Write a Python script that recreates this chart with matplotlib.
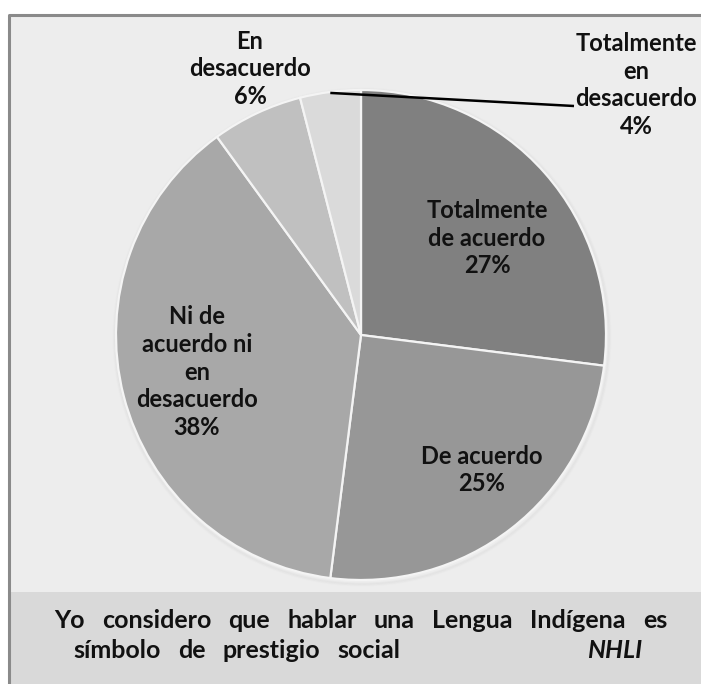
import numpy as np
import matplotlib
matplotlib.use("Agg")
import matplotlib.pyplot as plt
from matplotlib.patches import Rectangle

# Survey answers: "Yo considero que hablar una Lengua Indígena es símbolo de prestigio social" (NHLI)
categories = ["Totalmente\nde acuerdo", "De acuerdo", "Ni de\nacuerdo ni\nen\ndesacuerdo",
              "En\ndesacuerdo", "Totalmente\nen\ndesacuerdo"]
percentages = [27, 25, 38, 6, 4]
colors = ["#808080", "#979797", "#a8a8a8", "#c0c0c0", "#dadada"]
caption_line1 = ["Yo", "considero", "que", "hablar", "una", "Lengua", "Indígena", "es"]
caption_line2 = ["símbolo", "de", "prestigio", "social"]
caption_tag = "NHLI"

W, H = 701, 684
fig = plt.figure(figsize=(W / 100, H / 100), dpi=100)
fig.patch.set_facecolor("white")
ax = fig.add_axes([0, 0, 1, 1])

FONT = "Lato"
TXT = "#111111"

cx, cy, R = 361, H - 335, 245

wedges, _ = ax.pie(percentages, colors=colors, startangle=90, counterclock=False,
                   center=(cx, cy), radius=R, frame=True,
                   wedgeprops=dict(edgecolor="#f4f4f4", linewidth=1.6, zorder=3))
ax.set_xlim(0, W)
ax.set_ylim(0, H)
ax.set_aspect("equal")
ax.axis("off")

# chart frame and caption band
ax.add_patch(Rectangle((9, 92), W - 9, H - 15 - 92, facecolor="#ededed",
                       edgecolor="none", zorder=0))
ax.add_patch(Rectangle((9, 0), W - 9, 92, facecolor="#d9d9d9",
                       edgecolor="none", zorder=0))
ax.plot([9, 9, W], [0, H - 15, H - 15], color="#8a8a8a", lw=2.2, zorder=1,
        solid_capstyle="butt")

# soft shadow rim around the pie
for k, a in enumerate([0.06, 0.04, 0.025]):
    ax.add_patch(plt.Circle((cx + 1, cy - 2), R + 1.5 + k, facecolor="none",
                            edgecolor="#8a8a8a", lw=1.3, alpha=a, zorder=2))

# data labels: centre positions in chart pixels (x, y from top)
label_pos = [(487, 238), (482, 470), (197, 372), (250, 69), (636, 85)]
fs = 17
for (x, ytop), lab, p in zip(label_pos, categories, percentages):
    ax.text(x, H - ytop, f"{lab}\n{p}%", ha="center", va="center", fontsize=fs,
            fontweight="bold", family=FONT, linespacing=1.25, color=TXT, zorder=5)

# leader line for the smallest slice
w5 = wedges[4]
m5 = np.deg2rad((w5.theta1 + w5.theta2) / 2)
ax.plot([cx + R * np.cos(m5), 574], [cy + R * np.sin(m5) - 1, H - 106],
        color="black", lw=1.8, zorder=6, solid_capstyle="butt")

# justified caption
fig.canvas.draw()
renderer = fig.canvas.get_renderer()
inv = ax.transData.inverted()


def word_width(t):
    bb = t.get_window_extent(renderer)
    (x0, _), (x1, _) = inv.transform([[bb.x0, bb.y0], [bb.x1, bb.y1]])
    return x1 - x0


cap_fs = 18
cap_kw = dict(fontsize=cap_fs, family=FONT, fontweight="bold", color=TXT,
              va="center", ha="left")
y1, y2 = H - 620, H - 650
left, right = 54, 667
texts = [ax.text(0, y1, w, **cap_kw) for w in caption_line1]
widths = [word_width(t) for t in texts]
gap = (right - left - sum(widths)) / (len(texts) - 1)
x = left
for t, wd in zip(texts, widths):
    t.set_x(x)
    x += wd + gap

texts2 = [ax.text(0, y2, w, **cap_kw) for w in caption_line2]
x = 73
for t in texts2:
    t.set_x(x)
    x += word_width(t) + gap
ax.text(642, y2, caption_tag, fontsize=cap_fs, family=FONT, fontweight="bold",
        style="italic", color=TXT, va="center", ha="right")

fig.savefig("out.png", dpi=100, facecolor="white")
